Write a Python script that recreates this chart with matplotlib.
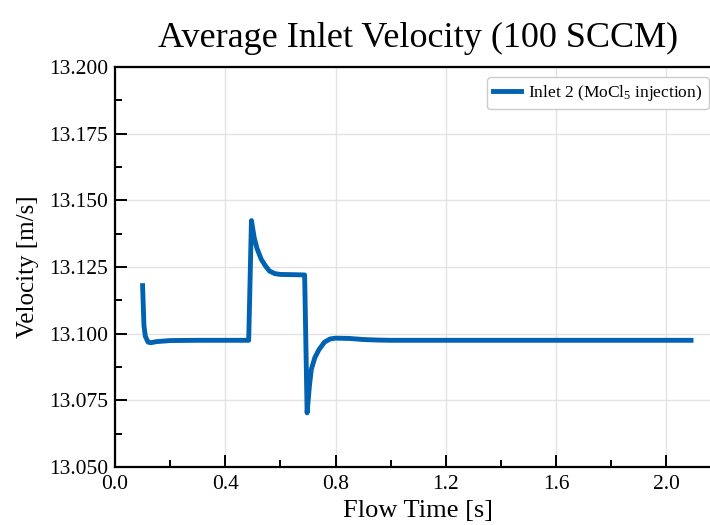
import matplotlib
matplotlib.use("Agg")
import matplotlib.pyplot as plt

plt.rcParams['font.family'] = ['Liberation Serif', 'DejaVu Serif']
plt.rcParams['mathtext.fontset'] = 'custom'
plt.rcParams['mathtext.rm'] = 'Liberation Serif'
plt.rcParams['mathtext.it'] = 'Liberation Serif:italic'

# flow time [s] and area-averaged velocity at inlet 2 [m/s]
flow_time = [0.100, 0.105, 0.110, 0.120, 0.130, 0.150, 0.200, 0.300, 0.400, 0.485,
             0.495, 0.505, 0.515, 0.530, 0.545, 0.560, 0.580, 0.600, 0.650, 0.688,
             0.697, 0.705, 0.712, 0.725, 0.740, 0.760, 0.780, 0.800, 0.850, 0.900,
             0.950, 1.000, 1.500, 2.090]
velocity = [13.1180, 13.1030, 13.0990, 13.0968, 13.0966, 13.0970, 13.0974, 13.0975, 13.0975, 13.0975,
            13.1424, 13.1360, 13.1320, 13.1280, 13.1255, 13.1235, 13.1225, 13.1222, 13.1221, 13.1220,
            13.0703, 13.0800, 13.0865, 13.0910, 13.0940, 13.0968, 13.0980, 13.0983, 13.0982, 13.0978,
            13.0976, 13.0975, 13.0975, 13.0975]

x_ticks = [0.0, 0.4, 0.8, 1.2, 1.6, 2.0]
y_ticks = [13.050, 13.075, 13.100, 13.125, 13.150, 13.175, 13.200]

fig = plt.figure(figsize=(7.10, 5.25), dpi=100)
ax = fig.add_axes([0.162, 0.1105, 0.854, 0.762])

ax.plot(flow_time, velocity, color='#0062b0', lw=3.5, label='Inlet 2 (MoCl$_5$ injection)')

ax.set_xlim(0, 2.2)
ax.set_ylim(13.05, 13.2)
ax.set_xticks(x_ticks)
ax.set_xticklabels([f"{v:.1f}" for v in x_ticks])
ax.set_yticks(y_ticks)
ax.set_yticklabels([f"{v:.3f}" for v in y_ticks])
ax.set_xticks([0.2, 0.6, 1.0, 1.4, 1.8], minor=True)
ax.set_yticks([13.0625, 13.0875, 13.1125, 13.1375, 13.1625, 13.1875], minor=True)

ax.tick_params(which='both', direction='in', labelsize=15.5, width=1.4)
ax.tick_params(axis='x', pad=6)
ax.tick_params(axis='y', pad=5)
ax.tick_params(which='major', length=8.5)
ax.tick_params(which='minor', length=5)
for s in ax.spines.values():
    s.set_linewidth(1.6)

ax.grid(True, which='major', color='#e3e3e3', lw=1.0)
ax.set_axisbelow(True)

ax.set_title('Average Inlet Velocity (100 SCCM)', fontsize=26, pad=14)
ax.set_xlabel('Flow Time [s]', fontsize=19, labelpad=4)
ax.set_ylabel('Velocity [m/s]', fontsize=18, labelpad=7)

ax.legend(loc='upper right', bbox_to_anchor=(0.998, 0.853), bbox_transform=fig.transFigure,
          borderaxespad=0, fontsize=12.5, handlelength=1.6, handletextpad=0.4,
          borderpad=0.35, framealpha=1, edgecolor='#cccccc')

fig.savefig('out.png', dpi=100)
